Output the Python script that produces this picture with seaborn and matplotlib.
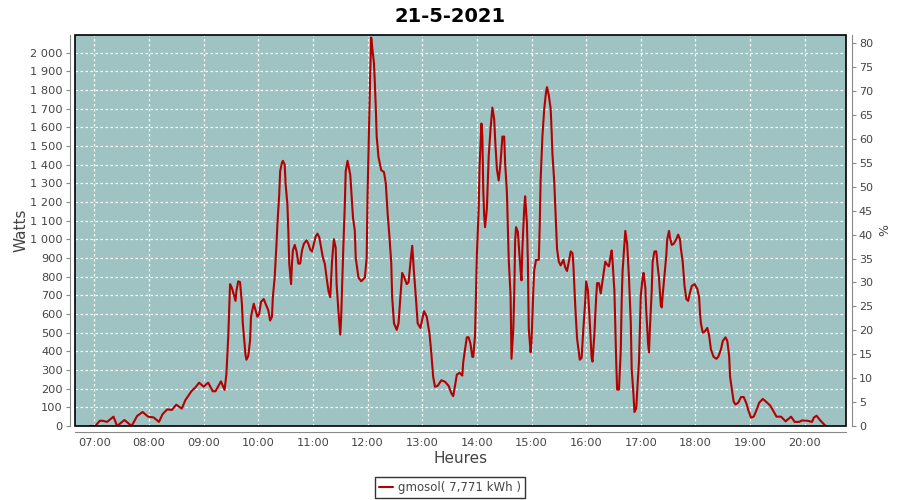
import pandas as pd
import seaborn as sns
import matplotlib
matplotlib.use("Agg")
import matplotlib.pyplot as plt
from matplotlib.patches import Rectangle
from matplotlib.ticker import FuncFormatter, MultipleLocator

# Readings of the day (time, watts)
times = [
    "06:55", "07:01", "07:06", "07:09", "07:14", "07:21", "07:25", "07:33", "07:41", "07:47",
    "07:53", "07:59", "08:05", "08:11", "08:15", "08:20", "08:25", "08:30", "08:36", "08:40",
    "08:47", "08:51", "08:55", "09:00", "09:05", "09:10", "09:13", "09:19", "09:23", "09:25",
    "09:27", "09:29", "09:31", "09:33", "09:35", "09:36", "09:38", "09:40", "09:42", "09:43",
    "09:45", "09:46", "09:47", "09:49", "09:51", "09:52", "09:55", "09:57", "09:59", "10:01",
    "10:03", "10:06", "10:08", "10:11", "10:13", "10:15", "10:16", "10:18", "10:20", "10:21",
    "10:23", "10:24", "10:26", "10:27", "10:29", "10:30", "10:32", "10:33", "10:34", "10:36",
    "10:37", "10:38", "10:40", "10:42", "10:44", "10:46", "10:48", "10:50", "10:53", "10:55",
    "10:57", "10:59", "11:01", "11:03", "11:05", "11:07", "11:09", "11:11", "11:13", "11:15",
    "11:17", "11:19", "11:21", "11:23", "11:25", "11:26", "11:28", "11:30", "11:31", "11:33",
    "11:35", "11:36", "11:38", "11:41", "11:44", "11:46", "11:47", "11:50", "11:53", "11:57",
    "11:59", "12:00", "12:02", "12:03", "12:04", "12:05", "12:07", "12:08", "12:09", "12:10",
    "12:12", "12:15", "12:18", "12:20", "12:22", "12:24", "12:26", "12:27", "12:29", "12:32",
    "12:34", "12:36", "12:38", "12:40", "12:43", "12:45", "12:47", "12:49", "12:51", "12:53",
    "12:55", "12:58", "13:00", "13:02", "13:05", "13:08", "13:10", "13:12", "13:14", "13:17",
    "13:21", "13:25", "13:29", "13:32", "13:34", "13:36", "13:38", "13:41", "13:44", "13:45",
    "13:47", "13:49", "13:51", "13:53", "13:55", "13:56", "13:58", "13:59", "14:00", "14:02",
    "14:03", "14:05", "14:06", "14:07", "14:08", "14:09", "14:11", "14:12", "14:13", "14:15",
    "14:17", "14:19", "14:20", "14:22", "14:24", "14:26", "14:28", "14:30", "14:31", "14:33",
    "14:34", "14:35", "14:37", "14:38", "14:40", "14:41", "14:42", "14:43", "14:45", "14:46",
    "14:48", "14:49", "14:50", "14:52", "14:53", "14:55", "14:56", "14:57", "14:59", "15:00",
    "15:02", "15:03", "15:05", "15:08", "15:09", "15:10", "15:12", "15:14", "15:16", "15:17",
    "15:19", "15:21", "15:22", "15:23", "15:25", "15:26", "15:27", "15:28", "15:30", "15:32",
    "15:35", "15:37", "15:39", "15:41", "15:43", "15:45", "15:46", "15:48", "15:50", "15:53",
    "15:55", "15:57", "15:59", "16:00", "16:02", "16:04", "16:06", "16:07", "16:09", "16:11",
    "16:12", "16:14", "16:16", "16:19", "16:21", "16:23", "16:25", "16:27", "16:28", "16:29",
    "16:31", "16:32", "16:33", "16:34", "16:36", "16:38", "16:39", "16:40", "16:42", "16:43",
    "16:45", "16:47", "16:49", "16:50", "16:52", "16:53", "16:55", "16:56", "16:58", "16:59",
    "17:00", "17:02", "17:03", "17:05", "17:06", "17:08", "17:09", "17:10", "17:12", "17:13",
    "17:15", "17:17", "17:18", "17:20", "17:22", "17:23", "17:24", "17:26", "17:28", "17:29",
    "17:31", "17:32", "17:34", "17:36", "17:39", "17:41", "17:43", "17:44", "17:46", "17:48",
    "17:50", "17:52", "17:54", "17:56", "17:59", "18:02", "18:04", "18:05", "18:06", "18:08",
    "18:10", "18:13", "18:15", "18:17", "18:20", "18:23", "18:25", "18:28", "18:30", "18:33",
    "18:35", "18:37", "18:38", "18:40", "18:42", "18:44", "18:47", "18:50", "18:53", "18:56",
    "18:58", "19:01", "19:04", "19:07", "19:10", "19:14", "19:18", "19:22", "19:25", "19:29",
    "19:34", "19:39", "19:45", "19:49", "19:54", "19:57", "20:03", "20:08", "20:10", "20:13",
    "20:17", "20:22", "20:23",
]
watts = [
    0, 0, 28, 28, 22, 50, 0, 32, 0, 54,
    75, 50, 46, 22, 64, 89, 86, 114, 93, 139,
    189, 207, 232, 211, 232, 186, 186, 239, 193, 279,
    475, 760, 740, 705, 670, 725, 775, 770, 655, 550,
    435, 380, 355, 375, 460, 585, 655, 620, 585, 600,
    665, 680, 655, 620, 565, 585, 690, 795, 975, 1080,
    1240, 1365, 1410, 1420, 1400, 1295, 1185, 1045, 870, 760,
    870, 940, 970, 935, 870, 870, 940, 975, 995, 975,
    945, 935, 975, 1015, 1030, 1010, 955, 900, 870, 795,
    725, 690, 885, 1000, 955, 760, 615, 490, 580, 900,
    1185, 1365, 1420, 1345, 1115, 1045, 900, 795, 775, 795,
    900, 1240, 1690, 1905, 2080, 2030, 1945, 1835, 1710, 1550,
    1440, 1370, 1360, 1300, 1140, 1015, 873, 690, 550, 515,
    550, 690, 820, 800, 760, 770, 873, 965, 820, 690,
    550, 525, 570, 615, 585, 495, 390, 265, 210, 215,
    245, 237, 215, 175, 160, 215, 275, 285, 270, 340,
    410, 475, 475, 440, 370, 370, 485, 700, 915, 1165,
    1395, 1620, 1555, 1270, 1130, 1065, 1165, 1305, 1445, 1590,
    1705, 1645, 1540, 1375, 1315, 1410, 1550, 1550, 1410, 1250,
    1080, 890, 700, 360, 520, 700, 985, 1065, 1040, 970,
    830, 780, 955, 1165, 1230, 1080, 880, 520, 395, 450,
    730, 835, 890, 890, 1070, 1320, 1555, 1700, 1790, 1815,
    1770, 1700, 1590, 1455, 1305, 1185, 1055, 950, 880, 860,
    890, 850, 830, 880, 935, 925, 860, 645, 470, 355,
    365, 525, 670, 775, 725, 555, 365, 345, 490, 690,
    765, 765, 710, 810, 880, 865, 855, 915, 940, 880,
    725, 525, 345, 195, 195, 405, 670, 830, 975, 1045,
    975, 795, 555, 305, 165, 75, 95, 185, 345, 525,
    700, 795, 820, 740, 615, 440, 395, 525, 725, 880,
    935, 935, 880, 790, 645, 635, 700, 805, 915, 1000,
    1045, 1010, 970, 975, 1000, 1025, 1000, 950, 880, 750,
    680, 670, 715, 750, 760, 735, 690, 605, 550, 500,
    505, 525, 485, 410, 370, 360, 370, 410, 455, 475,
    455, 375, 265, 195, 130, 115, 125, 155, 155, 120,
    85, 45, 50, 85, 125, 145, 128, 110, 85, 50,
    50, 25, 50, 22, 22, 30, 28, 22, 45, 55,
    30, 5, 0,
]
hour_ticks = list(range(7, 21))
series_name = "gmosol( 7,771 kWh )"
title = "21-5-2021"
peak_watts = 2562  # 100 % on the right axis

df = pd.DataFrame({"time": times, "watts": watts})
t = pd.to_datetime(df["time"], format="%H:%M")
df["hour"] = t.dt.hour + t.dt.minute / 60

sns.set_style("white")
plt.rcParams["font.family"] = ["DejaVu Sans"]

fig = plt.figure(figsize=(9, 5), dpi=100)
ax = fig.add_axes([0.0837, 0.148, 0.8566, 0.782])
ax.set_facecolor("#9ec3c2")

sns.lineplot(data=df, x="hour", y="watts", ax=ax, color="#b40000", linewidth=1.5,
             label=series_name, legend=False)

ax.set_xlim(6.652, 20.76)
ax.set_ylim(0, 2094)
ax.set_xticks(hour_ticks)
ax.set_xticklabels([f"{h:02d}:00" for h in hour_ticks])
ax.yaxis.set_major_locator(MultipleLocator(100))
ax.yaxis.set_major_formatter(FuncFormatter(lambda v, p: f"{int(v):,}".replace(",", " ")))
ax.grid(True, color="white", linestyle=(0, (2, 2)), linewidth=0.9)

gray = "#888888"
for side in ["left", "bottom"]:
    ax.spines[side].set_position(("outward", 4))
    ax.spines[side].set_color(gray)
for side in ["top", "right"]:
    ax.spines[side].set_visible(False)
ax.tick_params(axis="both", colors=gray, labelcolor="#444444", labelsize=8.2,
               length=3, width=0.8, direction="out", pad=2)
ax.add_patch(Rectangle((0, 0), 1, 1, transform=ax.transAxes, fill=False,
                       edgecolor="black", linewidth=1.2, clip_on=False, zorder=5))

ax.set_xlabel("Heures", fontsize=11, color="#444444", labelpad=2)
ax.set_ylabel("Watts", fontsize=11, color="#444444", labelpad=1)

# right axis in percent
ax2 = ax.twinx()
ax2.set_ylim(0, 2094 / peak_watts * 100)
ax2.yaxis.set_major_locator(MultipleLocator(5))
for side in ["left", "bottom", "top"]:
    ax2.spines[side].set_visible(False)
ax2.spines["right"].set_position(("outward", 4))
ax2.spines["right"].set_color(gray)
ax2.tick_params(axis="y", colors=gray, labelcolor="#444444", labelsize=8,
                length=3, width=0.8, direction="out", pad=2)
ax2.set_ylabel("%", fontsize=9, color="#444444", labelpad=4)

fig.suptitle(title, fontsize=14, fontweight="bold", color="black", y=0.985)

handles, labels = ax.get_legend_handles_labels()
leg = fig.legend(handles, labels, loc="center", bbox_to_anchor=(0.5, 0.025),
                 fontsize=8.5, frameon=True, fancybox=False, handlelength=1.2,
                 handletextpad=0.4, borderpad=0.35, labelcolor="#444444")
leg.get_frame().set_edgecolor("black")
leg.get_frame().set_linewidth(1)

fig.savefig("out.png", dpi=100)
